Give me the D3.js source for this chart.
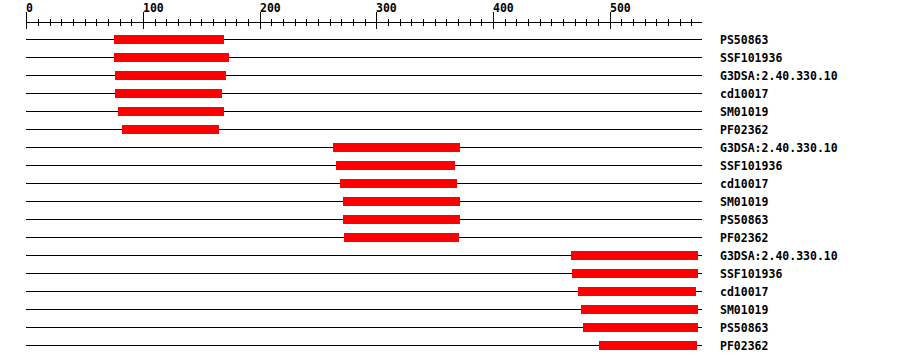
<!DOCTYPE html>
<html lang="en">
<head>
    <meta charset="UTF-8">
    <title>Domains</title>
    <style>
        body { margin: 0; padding: 0; background: #fff; overflow: hidden; }
        svg text { font-family: "DejaVu Sans Mono", monospace; font-weight: bold; font-size: 11.5px; fill: #000; }
        svg line, svg rect { shape-rendering: crispEdges; }
    </style>
</head>
<body>
<svg id="graph" width="900" height="364"></svg>
<script src="https://cdn.jsdelivr.net/npm/d3@7"></script>
<script>
    // domain hits, one row each
    const labels = ["PS50863", "SSF101936", "G3DSA:2.40.330.10", "cd10017", "SM01019", "PF02362",
        "G3DSA:2.40.330.10", "SSF101936", "cd10017", "SM01019", "PS50863", "PF02362",
        "G3DSA:2.40.330.10", "SSF101936", "cd10017", "SM01019", "PS50863", "PF02362"];
    const starts = [75, 75, 76, 76, 79, 82,
        263, 265, 269, 271, 271, 272,
        467, 468, 473, 475, 477, 491];
    const ends = [169, 174, 171, 168, 169, 165,
        372, 367, 369, 372, 372, 371,
        576, 576, 574, 576, 576, 575];
    const seqLength = 579;
    const majorTicks = [0, 100, 200, 300, 400, 500];

    const svg = d3.select("#graph");
    const x = d3.scaleLinear().domain([0, seqLength]).range([26.3, 702]);
    const rowY = i => 39.5 + i * 18;

    // ruler
    const ruler = svg.append("g");
    ruler.append("line")
        .attr("x1", x(0)).attr("x2", x(seqLength))
        .attr("y1", 22.5).attr("y2", 22.5)
        .attr("stroke", "#000").attr("stroke-width", 1);
    const minor = d3.range(0, seqLength, 10);
    ruler.selectAll(".tick")
        .data(minor)
        .enter().append("line")
        .attr("x1", d => Math.round(x(d)) + 0.5)
        .attr("x2", d => Math.round(x(d)) + 0.5)
        .attr("y1", d => d % 100 === 0 ? 12 : 19)
        .attr("y2", d => d % 100 === 0 ? 29 : 26)
        .attr("stroke", "#000").attr("stroke-width", 1);
    ruler.selectAll(".lab")
        .data(majorTicks)
        .enter().append("text")
        .attr("x", d => Math.round(x(d)))
        .attr("y", 12)
        .text(d => d);

    // rows
    const rows = svg.selectAll(".row")
        .data(labels)
        .enter().append("g");
    rows.append("line")
        .attr("x1", x(0)).attr("x2", x(seqLength))
        .attr("y1", (d, i) => rowY(i)).attr("y2", (d, i) => rowY(i))
        .attr("stroke", "#000").attr("stroke-width", 1);
    rows.append("rect")
        .attr("x", (d, i) => x(starts[i]))
        .attr("width", (d, i) => x(ends[i]) - x(starts[i]))
        .attr("y", (d, i) => rowY(i) - 4.5)
        .attr("height", 9)
        .attr("fill", "#ff0000");
    rows.append("text")
        .attr("x", 720)
        .attr("y", (d, i) => rowY(i) + 4)
        .text(d => d);
</script>
</body>
</html>
